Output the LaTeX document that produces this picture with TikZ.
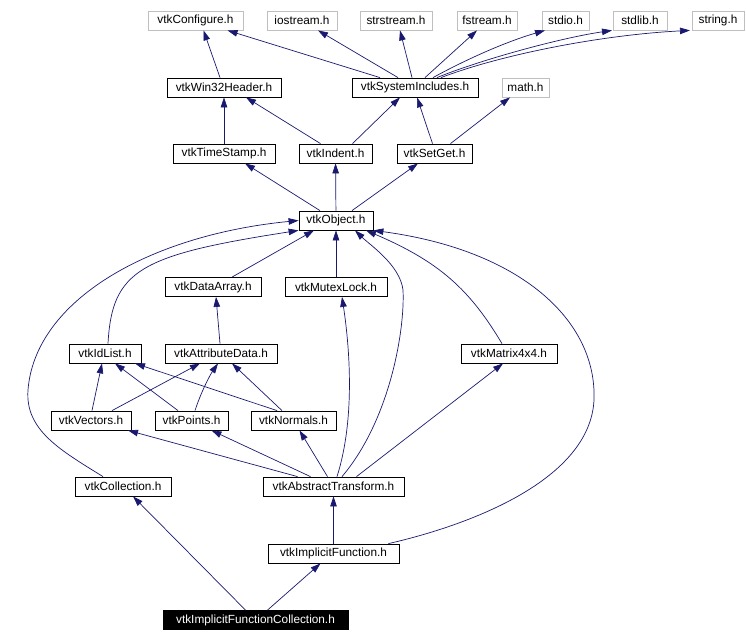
\documentclass[tikz,border=0pt]{standalone}
\usepackage{fontspec}
\setmainfont{Liberation Sans}
\usetikzlibrary{arrows.meta}
\definecolor{edgeblue}{HTML}{191970}
\definecolor{boxgray}{HTML}{BFBFBF}
\tikzset{
  hdr/.style={draw=black, line width=0.8pt, rectangle, inner sep=0pt, minimum height=19,
    font=\fontsize{11.8}{13}\selectfont},
  sysh/.style={hdr, draw=boxgray},
  cur/.style={hdr, fill=black, text=white},
  inc/.style={draw=edgeblue, line width=0.7pt, -{Triangle[length=10pt,width=6.5pt]}},
}
\begin{document}
\begin{tikzpicture}[x=1pt, y=-1pt]
  \useasboundingbox (0,0) rectangle (746,642);
  % system headers
  \node[sysh, minimum width=95] (configure) at (195.5,20.5) {vtkConfigure.h};
  \node[sysh, minimum width=70] (iostream) at (302,20.5) {iostream.h};
  \node[sysh, minimum width=72] (strstream) at (396,20.5) {strstream.h};
  \node[sysh, minimum width=60] (fstream) at (487,20.5) {fstream.h};
  \node[sysh, minimum width=47] (stdio) at (565.5,20.5) {stdio.h};
  \node[sysh, minimum width=54] (stdlib) at (640,20.5) {stdlib.h};
  \node[sysh, minimum width=52] (string) at (718,20.5) {string.h};
  \node[sysh, minimum width=47] (math) at (525.5,87.5) {math.h};
  % vtk headers
  \node[hdr, minimum width=114] (win32) at (224,87.5) {vtkWin32Header.h};
  \node[hdr, minimum width=126] (sysinc) at (415,87.5) {vtkSystemIncludes.h};
  \node[hdr, minimum width=102] (timestamp) at (224,153.5) {vtkTimeStamp.h};
  \node[hdr, minimum width=73] (indent) at (335.5,153.5) {vtkIndent.h};
  \node[hdr, minimum width=75] (setget) at (434.5,153.5) {vtkSetGet.h};
  \node[hdr, minimum width=74] (object) at (336,220.5) {vtkObject.h};
  \node[hdr, minimum width=96] (dataarray) at (213,287) {vtkDataArray.h};
  \node[hdr, minimum width=102] (mutex) at (336,287) {vtkMutexLock.h};
  \node[hdr, minimum width=72] (idlist) at (105,353.5) {vtkIdList.h};
  \node[hdr, minimum width=112] (attr) at (221,353.5) {vtkAttributeData.h};
  \node[hdr, minimum width=96] (matrix) at (509,353.5) {vtkMatrix4x4.h};
  \node[hdr, minimum width=80] (vectors) at (91,420.5) {vtkVectors.h};
  \node[hdr, minimum width=73] (points) at (191.5,420.5) {vtkPoints.h};
  \node[hdr, minimum width=85] (normals) at (293.5,420.5) {vtkNormals.h};
  \node[hdr, minimum width=96] (collection) at (123,486.5) {vtkCollection.h};
  \node[hdr, minimum width=141] (abstract) at (333.5,486.5) {vtkAbstractTransform.h};
  \node[hdr, minimum width=131] (implicit) at (333.5,553.5) {vtkImplicitFunction.h};
  \node[cur, minimum width=185] (ifc) at (255.5,620) {vtkImplicitFunctionCollection.h};

  % includes of vtkSystemIncludes.h and vtkWin32Header.h
  \draw[inc] ([xshift=-4]win32.north) -- ([xshift=8]configure.south);
  \draw[inc] ([xshift=-35]sysinc.north) -- ([xshift=32]configure.south);
  \draw[inc] ([xshift=-17]sysinc.north) -- ([xshift=16]iostream.south);
  \draw[inc] ([xshift=-3]sysinc.north) -- ([xshift=4]strstream.south);
  \draw[inc] ([xshift=10]sysinc.north) -- ([xshift=-10]fstream.south);
  \draw[inc] ([xshift=18]sysinc.north) .. controls (465,60) and (505,42) .. ([xshift=-20.5]stdio.south);
  \draw[inc] ([xshift=22]sysinc.north) .. controls (480,60) and (560,38) .. ([xshift=-28]stdlib.south);
  \draw[inc] ([xshift=26]sysinc.north) .. controls (500,55) and (600,35) .. ([xshift=-28]string.south);
  \draw[inc] (timestamp) -- (win32);
  \draw[inc] ([xshift=-15]indent.north) -- ([xshift=22]win32.south);
  \draw[inc] ([xshift=17]indent.north) -- ([xshift=-15]sysinc.south);
  \draw[inc] ([xshift=-2]setget.north) -- ([xshift=2]sysinc.south);
  \draw[inc] ([xshift=16]setget.north) -- ([xshift=-15.5]math.south);

  % vtkObject.h
  \draw[inc] ([xshift=-16]object.north) -- ([xshift=21]timestamp.south);
  \draw[inc] (object) -- (indent);
  \draw[inc] ([xshift=16]object.north) -- ([xshift=-16.5]setget.south);
  \draw[inc] ([xshift=-20]collection.north) .. controls (60,450) and (25,430) .. (28,390)
    .. controls (35,300) and (150,235) .. (object.west);
  \draw[inc] ([xshift=3]idlist.north) .. controls (112,270) and (140,255) .. (object.south west);
  \draw[inc] ([xshift=19]dataarray.north) -- ([xshift=-22]object.south);
  \draw[inc] (mutex) -- (object);
  \draw[inc] ([xshift=8.5]abstract.north) .. controls (390,420) and (405,330) .. (403,290)
    .. controls (400,265) and (370,245) .. ([xshift=19]object.south);
  \draw[inc] ([xshift=-7]matrix.north) .. controls (470,290) and (440,262) .. ([xshift=30]object.south);
  \draw[inc] ([xshift=-11]implicit.north east) .. controls (470,525) and (590,480) .. (594,400)
    .. controls (597,320) and (520,250) .. (object.south east);

  % data headers
  \draw[inc] ([xshift=-1]attr.north) -- ([xshift=3]dataarray.south);
  \draw[inc] ([xshift=1]vectors.north) -- ([xshift=-3]idlist.south);
  \draw[inc] ([xshift=-13.5]points.north) -- ([xshift=10]idlist.south);
  \draw[inc] ([xshift=-16.5]normals.north) -- ([xshift=30]idlist.south);
  \draw[inc] ([xshift=21]vectors.north) -- ([xshift=-21]attr.south);
  \draw[inc] ([xshift=3.5]points.north) .. controls (201,392) and (210,375) .. ([xshift=-3]attr.south);
  \draw[inc] ([xshift=-11.5]normals.north) -- ([xshift=11]attr.south);

  % vtkAbstractTransform.h
  \draw[inc] ([xshift=-36]abstract.north) -- ([xshift=37]vectors.south);
  \draw[inc] ([xshift=-23]abstract.north) -- ([xshift=20]points.south);
  \draw[inc] ([xshift=-6]abstract.north) -- ([xshift=6]normals.south);
  \draw[inc] ([xshift=3.5]abstract.north) .. controls (355,420) and (350,350) .. ([xshift=6]mutex.south);
  \draw[inc] ([xshift=23]abstract.north) -- ([xshift=-6]matrix.south);
  \draw[inc] (implicit) -- (abstract);

  % vtkImplicitFunctionCollection.h
  \draw[inc] ([xshift=-10]ifc.north) -- ([xshift=10]collection.south);
  \draw[inc] ([xshift=12]ifc.north) -- ([xshift=-13]implicit.south);
\end{tikzpicture}
\end{document}
